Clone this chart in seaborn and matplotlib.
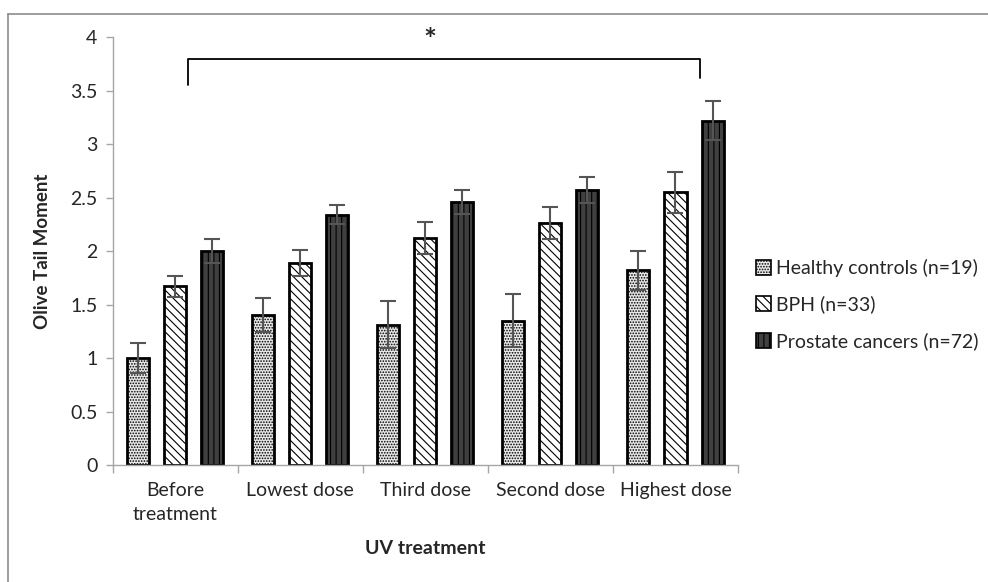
import numpy as np
import pandas as pd
import matplotlib
matplotlib.use("Agg")
import matplotlib.pyplot as plt
import seaborn as sns
from matplotlib.lines import Line2D

categories = ["Before\ntreatment", "Lowest dose", "Third dose", "Second dose", "Highest dose"]
groups = ["Healthy controls (n=19)", "BPH (n=33)", "Prostate cancers (n=72)"]
healthy = [1.00, 1.40, 1.31, 1.35, 1.82]
bph = [1.67, 1.89, 2.12, 2.26, 2.55]
cancer = [2.00, 2.34, 2.46, 2.57, 3.22]
healthy_err = [0.14, 0.16, 0.22, 0.25, 0.18]
bph_err = [0.10, 0.12, 0.15, 0.15, 0.19]
cancer_err = [0.11, 0.09, 0.11, 0.12, 0.18]
yticks = [0, 0.5, 1, 1.5, 2, 2.5, 3, 3.5, 4]
ytick_labels = ["0", "0.5", "1", "1.5", "2", "2.5", "3", "3.5", "4"]

values = [healthy, bph, cancer]
errors = [healthy_err, bph_err, cancer_err]
rows = []
for g, vals in zip(groups, values):
    for c, v in zip(categories, vals):
        rows.append({"treatment": c, "group": g, "value": v})
df = pd.DataFrame(rows)

sns.set_style("white")
plt.rcParams["font.family"] = ["Lato", "DejaVu Sans"]
plt.rcParams["hatch.linewidth"] = 0.8

fig = plt.figure(figsize=(9.88, 5.82), dpi=100)
ax = fig.add_axes([0.114, 0.201, 0.633, 0.735])

fills = ["#e8e8e8", "#ffffff", "#404040"]
hatches = ["......", "\\\\\\\\", "|||"]
hatch_cols = ["#a8a8a8", "#000000", "#2a2a2a"]

sns.barplot(data=df, x="treatment", y="value", hue="group", order=categories,
            hue_order=groups, palette=fills, errorbar=None, width=0.888, gap=0.405,
            edgecolor="black", linewidth=2, legend=False, ax=ax, zorder=2)

for cont, h, hc, errs in zip(ax.containers, hatches, hatch_cols, errors):
    xs, ys = [], []
    for p in cont.patches:
        p.set_hatch(h)
        if hasattr(p, "set_hatchcolor"):
            p.set_hatchcolor(hc)
        xs.append(p.get_x() + p.get_width() / 2)
        ys.append(p.get_height())
    ax.errorbar(xs, ys, yerr=errs, fmt="none", ecolor="#555555", elinewidth=1.5,
                capsize=5.5, capthick=1.5, zorder=3)

ax.set_ylim(0, 4)
ax.set_xlim(-0.5, 4.5)
ax.set_yticks(yticks)
ax.set_yticklabels(ytick_labels)
ax.set_xticks(np.arange(-0.5, 5.0, 1.0))
ax.set_xticklabels([])
ax.set_xticks(np.arange(5), minor=True)
ax.set_xticklabels(categories, minor=True, linespacing=1.55)
ax.tick_params(axis="x", which="major", length=6, color="#a6a6a6", width=1, direction="out", bottom=True)
ax.tick_params(axis="x", which="minor", length=0, labelsize=14, colors="#262626", pad=12)
ax.tick_params(axis="y", length=5, color="#a6a6a6", width=1, direction="out", left=True, labelsize=14, labelcolor="#262626", pad=6)

for s in ["top", "right"]:
    ax.spines[s].set_visible(False)
for s in ["left", "bottom"]:
    ax.spines[s].set_color("#a6a6a6")
    ax.spines[s].set_linewidth(1)

ax.set_xlabel("UV treatment", fontsize=14, fontweight="bold", labelpad=12)
ax.set_ylabel("Olive Tail Moment", fontsize=13.5, fontweight="bold", labelpad=14)

# significance bracket
ax.plot([0.1, 0.1, 4.196, 4.196], [3.55, 3.80, 3.80, 3.62], color="black", lw=1.3,
        clip_on=False, zorder=4)
ax.text(2.036, 3.83, "*", ha="center", va="bottom", fontsize=22, fontweight="bold")

leg = fig.legend(ax.containers, groups, loc="upper left", bbox_to_anchor=(0.757, 0.568),
                 frameon=False, fontsize=14, handlelength=0.8, handleheight=0.8,
                 handletextpad=0.25, labelspacing=0.95, borderaxespad=0)
for t in leg.get_texts():
    t.set_color("#262626")
for hnd in leg.legend_handles:
    hnd.set_linewidth(1.2)

# outer frame
fig.add_artist(Line2D([8 / 988, 8 / 988], [0, 1 - 14 / 582], transform=fig.transFigure,
                      color="#8c8c8c", lw=1.2))
fig.add_artist(Line2D([8 / 988, 1], [1 - 14 / 582, 1 - 14 / 582], transform=fig.transFigure,
                      color="#8c8c8c", lw=1.2))

fig.savefig("out.png", dpi=100)
